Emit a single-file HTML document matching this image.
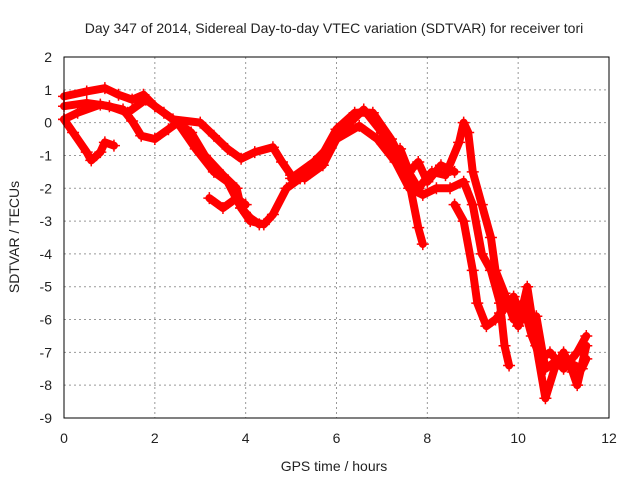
<!DOCTYPE html>
<html><head><meta charset="utf-8"><style>
body{margin:0;background:#fff}
text{font-family:"Liberation Sans",sans-serif;font-size:14px;fill:#222}
</style></head><body>
<svg id="chart" width="640" height="480" xmlns="http://www.w3.org/2000/svg">
<rect width="640" height="480" fill="#fff"/>
<text x="334" y="33" text-anchor="middle">Day 347 of 2014, Sidereal Day-to-day VTEC variation (SDTVAR) for receiver tori</text>
<g id="grid"></g>
<g id="axes"></g>
<g id="series"></g>
<rect x="64" y="57" width="545" height="361" fill="none" stroke="#000" stroke-width="1"/>
<text x="334" y="471" text-anchor="middle">GPS time / hours</text>
<text transform="translate(19,237) rotate(-90)" text-anchor="middle">SDTVAR / TECUs</text>
</svg>
<script>
const xTicks=[0,2,4,6,8,10,12];
const yTicks=[2,1,0,-1,-2,-3,-4,-5,-6,-7,-8,-9];
const trackA=[[0,0.8],[0.5,0.95],[0.9,1.05],[1.2,0.85],[1.5,0.7],[1.75,0.85],[2.0,0.5],[2.4,0.1],[3.0,0],[3.3,-0.4],[3.6,-0.8],[3.9,-1.1],[4.2,-0.9],[4.6,-0.75],[4.8,-1.2],[5.0,-1.6],[5.3,-1.7],[5.7,-1.3],[6.0,-0.5],[6.3,0],[6.6,0.4],[7.0,-0.3],[7.3,-1],[7.6,-1.8],[7.8,-3.2],[7.9,-3.7]];
const trackB=[[0,0.5],[0.5,0.6],[1,0.5],[1.4,0.3],[1.8,0.7],[2.2,0.3],[2.5,0],[2.9,-0.8],[3.3,-1.5],[3.6,-1.8],[3.9,-2.6],[4.1,-3],[4.4,-3.1],[4.6,-2.8],[4.9,-2.0],[5.2,-1.7],[5.6,-1.2],[6.0,-0.2],[6.4,0.3],[6.8,0.3],[7.2,-0.5],[7.5,-1.3],[7.8,-2],[8.1,-1.5],[8.4,-1.6],[8.7,-0.6],[8.8,0],[8.9,-0.3],[9.0,-1.5],[9.2,-2.5],[9.4,-3.5],[9.5,-4.5],[9.7,-5.2],[9.9,-6],[10.1,-5.5],[10.3,-6.5],[10.5,-7.2],[10.7,-7],[11,-7.5],[11.3,-7],[11.5,-6.5]];
const trackC=[[0,0.1],[0.2,-0.3],[0.5,-0.9],[0.6,-1.15],[0.8,-0.9],[0.9,-0.6],[1.1,-0.7]];
const trackD=[[0,0.1],[0.3,0.3],[0.8,0.55],[1.3,0.4],[1.5,0.05],[1.7,-0.4],[2.0,-0.5],[2.3,-0.2],[2.5,0],[2.8,-0.3],[3.1,-1],[3.5,-1.6],[3.8,-2],[3.9,-2.6],[4.1,-2.9],[4.3,-3.1]];
const trackE=[[3.2,-2.3],[3.5,-2.6],[3.8,-2.3],[4.0,-2.5]];
const trackF=[[5.0,-1.7],[5.5,-1.2],[6.0,-0.5],[6.5,-0.1],[6.9,-0.5],[7.3,-1.2],[7.6,-2],[7.9,-2.2],[8.2,-2.0],[8.5,-2.0],[8.8,-1.8],[9.0,-2.5],[9.2,-4],[9.4,-4.5],[9.6,-5.5],[9.7,-6.8],[9.8,-7.4]];
const trackG=[[8.6,-2.5],[8.8,-3],[9.0,-4.5],[9.1,-5.5],[9.3,-6.2],[9.5,-6],[9.8,-5.5],[10.0,-6.2],[10.2,-5],[10.4,-6.8],[10.6,-8.4],[10.8,-7.5],[11.0,-7.0],[11.2,-7.6],[11.3,-8.0],[11.5,-6.8]];
const trackH=[[7.4,-0.8],[7.6,-1.5],[7.8,-1.2],[8.0,-1.8],[8.3,-1.3],[8.6,-1.5]];
const trackI=[[9.6,-5.8],[9.9,-5.3],[10.1,-6.0],[10.4,-5.9],[10.6,-7.5],[10.9,-7.2],[11.1,-7.3],[11.4,-7.5],[11.5,-7.2]];
const tracks=[trackA,trackB,trackC,trackD,trackE,trackF,trackG,trackH,trackI];
const NS='http://www.w3.org/2000/svg';
const X=v=>64+v*(545/12);
const Y=v=>57+(2-v)*(361/11);
function mk(t,a,p){const e=document.createElementNS(NS,t);for(const k in a)e.setAttribute(k,a[k]);p.appendChild(e);return e;}
const grid=document.getElementById('grid'),axes=document.getElementById('axes'),ser=document.getElementById('series');
xTicks.forEach(t=>{
 if(t>0&&t<12){const l=mk('line',{x1:X(t),x2:X(t),y1:57,y2:418,stroke:'#999','stroke-dasharray':'2,3'},grid);
 
 }
 const tx=mk('text',{x:X(t),y:443,'text-anchor':'middle'},axes);tx.textContent=t;
 
 
});
yTicks.forEach(t=>{
 if(t<2&&t>-9){const l=mk('line',{x1:64,x2:609,y1:Y(t),y2:Y(t),stroke:'#999','stroke-dasharray':'2,3'},grid);
 
 }
 const tx=mk('text',{x:52,y:Y(t)+5,'text-anchor':'end'},axes);tx.textContent=t;
 
 
});
tracks.forEach((tr,i)=>{
 const pl=mk('polyline',{points:tr.map(p=>X(p[0])+','+Y(p[1])).join(' '),fill:'none',stroke:'#f00','stroke-width':8,'stroke-linejoin':'round','stroke-linecap':'round'},ser);
 
 
 tr.forEach(p=>{const m=mk('path',{d:`M${X(p[0])-6},${Y(p[1])}h12M${X(p[0])},${Y(p[1])-6}v12`,stroke:'#f00','stroke-width':1.5},ser);
 
 });
});
</script>
</body></html>
